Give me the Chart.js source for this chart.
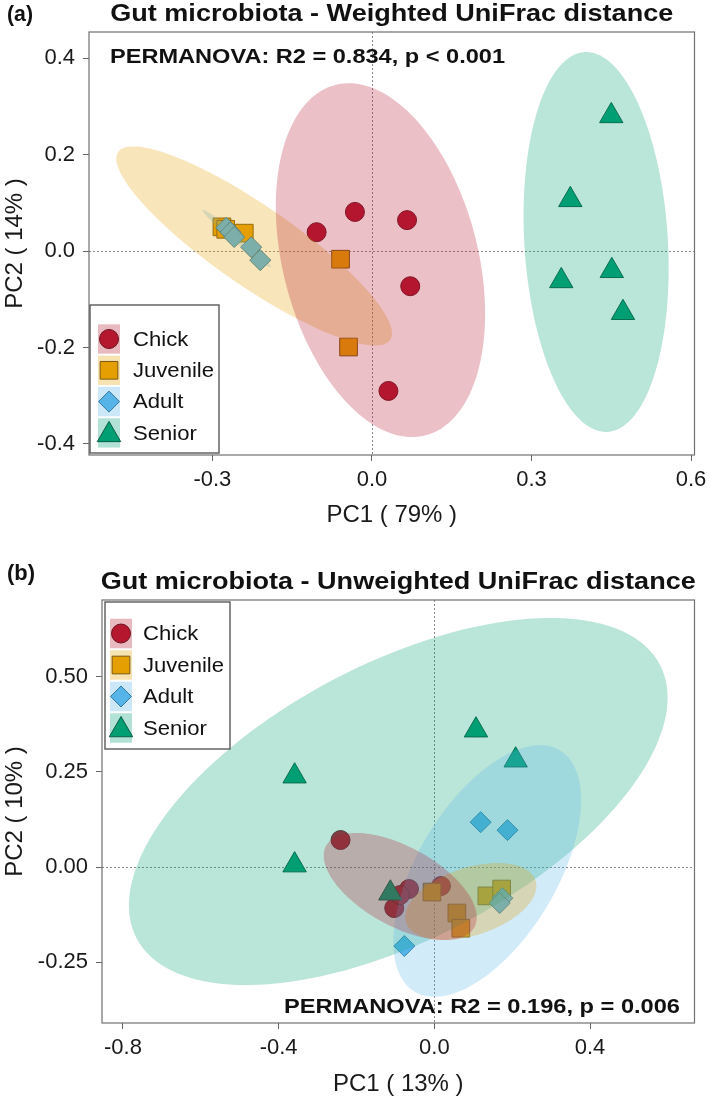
<!DOCTYPE html>
<html>
<head>
<meta charset="utf-8">
<script src="https://cdn.jsdelivr.net/npm/chart.js@4.4.0/dist/chart.umd.min.js"></script>
<style>
  html, body { margin: 0; padding: 0; background: #fff; }
  #wrap { position: relative; width: 709px; height: 1099px; }
  #chartA { position: absolute; left: 0; top: 0; }
  #chartB { position: absolute; left: 0; top: 545px; }
</style>
</head>
<body>
<div id="wrap">
  <canvas id="chartA" width="709" height="545"></canvas>
  <canvas id="chartB" width="709" height="554"></canvas>
</div>
<script>
// Gut microbiota PCoA - weighted (a) and unweighted (b) UniFrac
const FONT = '"Liberation Sans", Arial, Helvetica, sans-serif';

const groups = ['Chick', 'Juvenile', 'Adult', 'Senior'];
const groupColors = ['#B5172F', '#E69F00', '#56B4E9', '#009E73'];
const groupBorders = ['#6a1422', '#7a5810', '#33789e', '#0a5c44'];
const groupShapes = ['circle', 'rect', 'rectRot', 'triangle'];
const groupRadius = [9.5, 12.5, 10.5, 13.5];

// (a) weighted UniFrac, [PC1, PC2]
const wChick = [[-0.104, 0.039], [-0.032, 0.081], [0.066, 0.064], [0.072, -0.073], [0.031, -0.290]];
const wJuvenile = [[-0.282, 0.050], [-0.275, 0.045], [-0.240, 0.037], [-0.059, -0.017], [-0.044, -0.199]];
const wAdult = [[-0.274, 0.048], [-0.266, 0.039], [-0.259, 0.029], [-0.227, 0.008], [-0.210, -0.019]];
const wSenior = [[0.450, 0.280], [0.373, 0.106], [0.356, -0.062], [0.451, -0.041], [0.472, -0.128]];

// ellipses: centre x, centre y, semi-axis 1 (dx, dy), semi-axis 2 (dx, dy)
const wEllChick = [0.016, -0.019, -0.0852, 0.3631, 0.1774, 0.0512];
const wEllJuvenile = [-0.2215, 0.0104, 0.2557, -0.1948, 0.0423, 0.0684];
const wEllAdult = [-0.2542, 0.0259, 0.0643, -0.0591, 0.0048, 0.0064];
const wEllSenior = [0.4215, 0.0187, -0.0217, 0.3936, 0.1347, 0.0091];

const wXTicks = [-0.3, 0.0, 0.3, 0.6];
const wYTicks = [-0.4, -0.2, 0.0, 0.2, 0.4];
const wXRange = [-0.532, 0.6065];
const wYRange = [-0.4228, 0.4539];

// (b) unweighted UniFrac
const uChick = [[-0.241, 0.071], [-0.103, -0.108], [-0.065, -0.058], [-0.088, -0.074], [0.017, -0.050]];
const uJuvenile = [[-0.006, -0.066], [0.058, -0.121], [0.068, -0.161], [0.135, -0.076], [0.173, -0.058]];
const uAdult = [[0.119, 0.118], [0.188, 0.097], [0.175, -0.082], [0.168, -0.095], [-0.077, -0.208]];
const uSenior = [[0.107, 0.360], [0.209, 0.281], [-0.359, 0.239], [-0.359, 0.005], [-0.113, -0.069]];

const uEllChick = [-0.0876, -0.0513, 0.1905, -0.1071, 0.0485, 0.0916];
const uEllJuvenile = [0.0937, -0.0908, 0.1665, 0.0550, -0.0266, 0.0850];
const uEllAdult = [0.1359, -0.0105, 0.1872, 0.3171, -0.1522, 0.0953];
const uEllSenior = [-0.0927, 0.1724, 0.6728, 0.3592, -0.1625, 0.3229];

const uXTicks = [-0.8, -0.4, 0.0, 0.4];
const uYTicks = [-0.25, 0.00, 0.25, 0.50];
const uXRange = [-0.8539, 0.6685];
const uYRange = [-0.4105, 0.7026];

const ELL_ALPHA = 0.27;

function tint(hex, a) {
    const n = parseInt(hex.slice(1), 16);
    return `rgba(${n >> 16}, ${(n >> 8) & 255}, ${n & 255}, ${a})`;
}

// draw text squeezed/stretched to a given width
function fitText(ctx, text, x, y, width, font, align) {
    ctx.font = font;
    const w = ctx.measureText(text).width;
    ctx.save();
    ctx.translate(x, y);
    ctx.scale(width / w, 1);
    ctx.textAlign = 'left';
    ctx.fillText(text, align === 'center' ? -w / 2 : 0, 0);
    ctx.restore();
}

const decor = {
    id: 'decor',
    beforeDatasetsDraw(chart, args, o) {
        const { ctx, chartArea: a, scales: { x, y } } = chart;
        ctx.save();
        ctx.strokeStyle = '#8a8a8a';
        ctx.lineWidth = 1;
        ctx.setLineDash([2, 2]);
        const x0 = Math.round(x.getPixelForValue(0)) + 0.5;
        const y0 = Math.round(y.getPixelForValue(0)) + 0.5;
        ctx.beginPath();
        ctx.moveTo(x0, a.top); ctx.lineTo(x0, a.bottom);
        ctx.moveTo(a.left, y0); ctx.lineTo(a.right, y0);
        ctx.stroke();
        ctx.restore();
    },
    afterDatasetsDraw(chart, args, o) {
        // confidence ellipses sit on top of the points
        const { ctx, chartArea: a, scales: { x, y } } = chart;
        ctx.save();
        ctx.beginPath();
        ctx.rect(a.left, a.top, a.width, a.height);
        ctx.clip();
        o.ellipses.forEach(([gi, e]) => {
            ctx.beginPath();
            for (let k = 0; k <= 144; k++) {
                const t = k / 144 * Math.PI * 2;
                const px = x.getPixelForValue(e[0] + e[2] * Math.cos(t) + e[4] * Math.sin(t));
                const py = y.getPixelForValue(e[1] + e[3] * Math.cos(t) + e[5] * Math.sin(t));
                if (k) ctx.lineTo(px, py); else ctx.moveTo(px, py);
            }
            ctx.closePath();
            ctx.fillStyle = tint(groupColors[gi], ELL_ALPHA);
            ctx.fill();
        });
        ctx.restore();
    },
    afterDraw(chart, args, o) {
        const { ctx, chartArea: a } = chart;
        ctx.save();
        // plot box
        ctx.strokeStyle = '#707070';
        ctx.lineWidth = 1.2;
        ctx.strokeRect(a.left, a.top, a.width, a.height);

        ctx.fillStyle = '#111';
        ctx.textBaseline = 'alphabetic';
        fitText(ctx, o.tag, o.tagPos[0], o.tagPos[1], o.tagPos[2], 'bold 22px ' + FONT, 'left');
        fitText(ctx, o.title, (a.left + a.right) / 2, o.titlePos[0], o.titlePos[1], 'bold 24px ' + FONT, 'center');
        fitText(ctx, o.stat, o.statPos[0], o.statPos[1], o.statPos[2], 'bold 21px ' + FONT, 'left');

        // legend
        const L = o.legend;
        ctx.fillStyle = '#fff';
        ctx.fillRect(L.box[0], L.box[1], L.box[2], L.box[3]);
        ctx.strokeStyle = '#5a5a5a';
        ctx.lineWidth = 1.4;
        ctx.strokeRect(L.box[0], L.box[1], L.box[2], L.box[3]);
        ctx.font = '21px ' + FONT;
        const sx = 81 / ctx.measureText('Juvenile').width;
        groups.forEach((g, i) => {
            const cy = L.first + i * L.step;
            ctx.fillStyle = tint(groupColors[i], ELL_ALPHA + 0.03);
            ctx.fillRect(L.swatchX, cy - L.step / 2 + 1, L.swatchW, L.step - 2);
            ctx.fillStyle = groupColors[i];
            ctx.strokeStyle = groupBorders[i];
            ctx.lineWidth = 1;
            Chart.helpers.drawPoint(ctx, { pointStyle: groupShapes[i], radius: groupRadius[i], rotation: 0, borderWidth: 1 },
                L.swatchX + L.swatchW / 2, cy + (i === 3 ? 2 : 0));
            ctx.fillStyle = '#111';
            ctx.textBaseline = 'middle';
            ctx.save();
            ctx.translate(L.labelX, cy);
            ctx.scale(sx, 1);
            ctx.textAlign = 'left';
            ctx.fillText(g, 0, 1);
            ctx.restore();
        });
        ctx.restore();
    }
};

function makeDatasets(sets) {
    return sets.map((pts, i) => ({
        label: groups[i],
        data: pts.map(([x, y]) => ({ x, y })),
        pointStyle: groupShapes[i],
        pointRadius: groupRadius[i],
        pointHoverRadius: groupRadius[i],
        backgroundColor: groupColors[i],
        borderColor: groupBorders[i],
        borderWidth: 1,
        order: 3 - i
    }));
}

function axis(range, ticks, decimals, title, fitSize, isX, titlePad) {
    return {
        type: 'linear',
        min: range[0],
        max: range[1],
        afterBuildTicks: s => { s.ticks = ticks.map(v => ({ value: v })); },
        afterFit: s => {
            if (isX) s.height = fitSize; else s.width = fitSize;
            s.paddingLeft = 0; s.paddingRight = 0; s.paddingTop = 0; s.paddingBottom = 0;
        },
        ticks: {
            callback: v => Number(v).toFixed(decimals),
            font: { family: FONT, size: 22 },
            color: '#1a1a1a',
            padding: isX ? 6 : 8,
            maxRotation: 0,
            autoSkip: false
        },
        grid: { display: true, drawOnChartArea: false, drawTicks: true, tickLength: 6, tickColor: '#666', color: '#666' },
        border: { display: false },
        title: { display: true, text: title, font: { family: FONT, size: 24 }, color: '#1a1a1a', padding: titlePad }
    };
}

function makeChart(id, cfg) {
    return new Chart(document.getElementById(id), {
        type: 'scatter',
        data: { datasets: makeDatasets(cfg.sets) },
        options: {
            responsive: false,
            animation: false,
            events: [],
            layout: { padding: cfg.padding },
            plugins: { legend: { display: false }, tooltip: { enabled: false }, decor: cfg.decor },
            scales: { x: cfg.x, y: cfg.y }
        },
        plugins: [decor]
    });
}

makeChart('chartA', {
    sets: [wChick, wJuvenile, wAdult, wSenior],
    padding: { top: 32, right: 11, left: 0, bottom: 0 },
    x: axis(wXRange, wXTicks, 1, 'PC1 ( 79% )', 90, true, { top: 0, bottom: 15 }),
    y: axis(wYRange, wYTicks, 1, 'PC2 ( 14% )', 89, false, { top: 1, bottom: 0 }),
    decor: {
        tag: '(a)', tagPos: [7, 21, 26],
        title: 'Gut microbiota - Weighted UniFrac distance', titlePos: [21, 563],
        stat: 'PERMANOVA: R2 = 0.834, p < 0.001', statPos: [110, 63, 395],
        ellipses: [[3, wEllSenior], [2, wEllAdult], [1, wEllJuvenile], [0, wEllChick]],
        legend: { box: [90, 305, 129, 148], swatchX: 98, swatchW: 22, first: 339, step: 31.3, labelX: 133 }
    }
});

makeChart('chartB', {
    sets: [uChick, uJuvenile, uAdult, uSenior],
    padding: { top: 55, right: 11, left: 0, bottom: 0 },
    x: axis(uXRange, uXTicks, 1, 'PC1 ( 13% )', 76, true, { top: 0, bottom: 0 }),
    y: axis(uYRange, uYTicks, 2, 'PC2 ( 10% )', 102, false, { top: 1, bottom: 0 }),
    decor: {
        tag: '(b)', tagPos: [7, 35, 28],
        title: 'Gut microbiota - Unweighted UniFrac distance', titlePos: [44, 595],
        stat: 'PERMANOVA: R2 = 0.196, p = 0.006', statPos: [284, 468, 396],
        ellipses: [[3, uEllSenior], [2, uEllAdult], [1, uEllJuvenile], [0, uEllChick]],
        legend: { box: [105, 57, 125, 147], swatchX: 110, swatchW: 22, first: 88.5, step: 31.5, labelX: 143 }
    }
});
</script>
</body>
</html>
